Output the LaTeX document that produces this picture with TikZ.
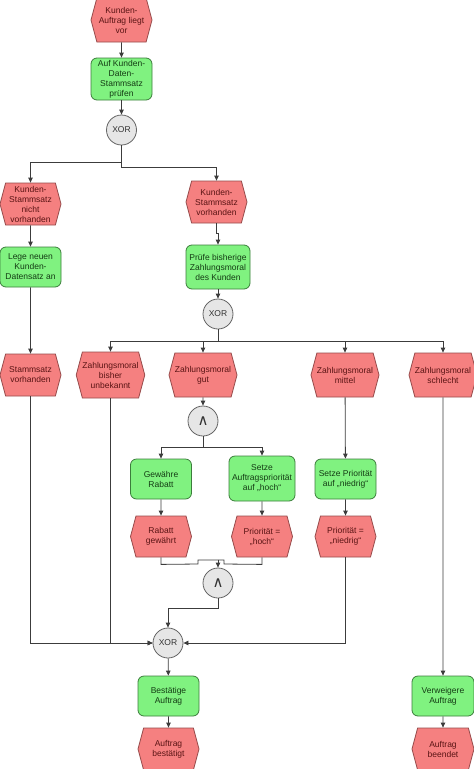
\documentclass[tikz,border=0pt]{standalone}
\usepackage{fontspec}
\setmainfont{Liberation Sans}
\newfontfamily\dejavu{DejaVu Sans}
\usetikzlibrary{shapes.symbols,arrows.meta,calc}
\definecolor{evfill}{RGB}{245,128,128}
\definecolor{evdraw}{RGB}{150,75,75}
\definecolor{evtext}{RGB}{90,20,20}
\definecolor{fnfill}{RGB}{128,242,128}
\definecolor{fndraw}{RGB}{60,125,60}
\definecolor{fntext}{RGB}{20,60,20}
\definecolor{cofill}{RGB}{230,230,230}
\definecolor{codraw}{RGB}{100,100,100}
\definecolor{lncol}{RGB}{60,60,60}
\begin{document}
\begin{tikzpicture}[x=1pt,y=-1pt,
 font=\fontsize{8.5}{10}\selectfont,
 event/.style={shape=signal, signal to=east and west, signal pointer angle=150,
   fill=evfill, draw=evdraw, line width=0.8pt, minimum width=61pt, minimum height=42pt,
   inner sep=0pt, align=center, text=evtext},
 func/.style={rectangle, rounded corners=6pt, fill=fnfill, draw=fndraw, line width=0.8pt,
   minimum width=61pt, minimum height=40pt, inner sep=0pt, align=center, text=fntext},
 conn/.style={circle, fill=cofill, draw=codraw, line width=0.8pt, minimum size=30pt,
   inner sep=0pt, text=black!80},
 arr/.style={draw=lncol, line width=0.8pt, -{Triangle[length=5pt,width=4.5pt]}},
 plain/.style={draw=lncol, line width=0.8pt}]
\useasboundingbox (0,0) rectangle (474,769);
% row 1
\node[event, minimum height=44pt] (e1) at (121.5,20) {Kunden-\\Auftrag liegt\\vor};
\node[func, minimum height=42pt] (f1) at (121.5,79) {Auf Kunden-\\Daten-\\Stammsatz\\prüfen};
\node[conn] (x1) at (121.5,130) {XOR};
\node[event] (e2) at (30.5,204) {Kunden-\\Stammsatz\\nicht\\vorhanden};
\node[event] (e3) at (216.5,202) {Kunden-\\Stammsatz\\vorhanden};
\node[func] (f2) at (30.5,267) {Lege neuen\\Kunden-\\Datensatz an};
\node[func, minimum width=64pt, minimum height=44pt] (f3) at (218,267) {Prüfe bisherige\\Zahlungsmoral\\des Kunden};
\node[conn] (x2) at (218,314) {XOR};
% row of Zahlungsmoral events
\node[event] (e4) at (30.5,375) {Stammsatz\\vorhanden};
\node[event, minimum width=67pt, minimum height=46pt] (e5) at (110.5,375) {Zahlungsmoral\\bisher\\unbekannt};
\node[event, minimum width=64pt, minimum height=44pt] (e6) at (203,375) {Zahlungsmoral\\gut};
\node[event, minimum width=64pt, minimum height=44pt] (e7) at (345,375) {Zahlungsmoral\\mittel};
\node[event, minimum width=64pt, minimum height=44pt] (e8) at (443,375) {Zahlungsmoral\\schlecht};
\node[conn] (a1) at (203,421) {\dejavu\fontsize{15}{15}\selectfont ∧};
\node[func] (f4) at (161,479) {Gewähre\\Rabatt};
\node[func, minimum width=66pt, minimum height=45pt] (f5) at (262,478.5) {Setze\\Auftragspriorität\\auf „hoch“};
\node[func] (f6) at (345.5,479) {Setze Priorität\\auf „niedrig“};
\node[event, minimum height=41pt] (e9) at (161,536.5) {Rabatt\\gewährt};
\node[event, minimum height=41pt] (e10) at (262,536.5) {Priorität =\\„hoch“};
\node[event, minimum height=41pt] (e11) at (345.5,536.5) {Priorität =\\„niedrig“};
\node[conn] (a2) at (218,583) {\dejavu\fontsize{15}{15}\selectfont ∧};
\node[conn] (x3) at (168,643) {XOR};
\node[func] (f7) at (168.5,696) {Bestätige\\Auftrag};
\node[func, minimum width=62pt] (f8) at (443,696) {Verweigere\\Auftrag};
\node[event] (e12) at (168.5,749) {Auftrag\\bestätigt};
\node[event, minimum width=62pt] (e13) at (443,749) {Auftrag\\beendet};
\coordinate (ja) at (218,560);
% connectors
\draw[arr] (e1) -- (f1);
\draw[arr] (f1) -- (x1);
\draw[arr] (x1.south) -- ++(0,17) -| (e2.north);
\draw[arr] (x1.south) -- ++(0,22) -| (e3.north);
\draw[arr] (e2) -- (f2);
\draw[arr] (e3.south) -- ++(0,10) -| (f3.north);
\draw[arr] (f2) -- (e4);
\draw[arr] (f3) -- (x2);
\draw[arr] (x2.south) -- ++(0,12) coordinate (s2) -| (e5.north);
\draw[arr] (s2) -| (e6.north);
\draw[arr] (s2) -| (e7.north);
\draw[arr] (s2) -| (e8.north);
\draw[arr] (e6) -- (a1);
\draw[arr] (a1.south) -- ++(0,11) coordinate (s3) -| (f4.north);
\draw[arr] (s3) -| (f5.north);
\draw[arr] (e7) -- (f6);
\draw[arr] (f4) -- (e9);
\draw[arr] (f5) -- (e10);
\draw[arr] (f6) -- (e11);
\draw[plain] (e9.south) -- ++(0,7) -- (198,564) -- (198,560) -- (ja);
\draw[plain] (e10.south) -- ++(0,7) -- (224,564) -- (224,560) -- (ja);
\draw[arr] (ja) -- (a2.north);
\draw[arr] (a2.south) -- ++(0,10) -| (x3.north);
\draw[arr] (e4.south) |- (x3.west);
\draw[arr] (e5.south) |- (x3.west);
\draw[arr] (e11.south) |- (x3.east);
\draw[arr] (x3) -- (f7);
\draw[arr] (f7) -- (e12);
\draw[arr] (e8) -- (f8);
\draw[arr] (f8) -- (e13);
\end{tikzpicture}
\end{document}
